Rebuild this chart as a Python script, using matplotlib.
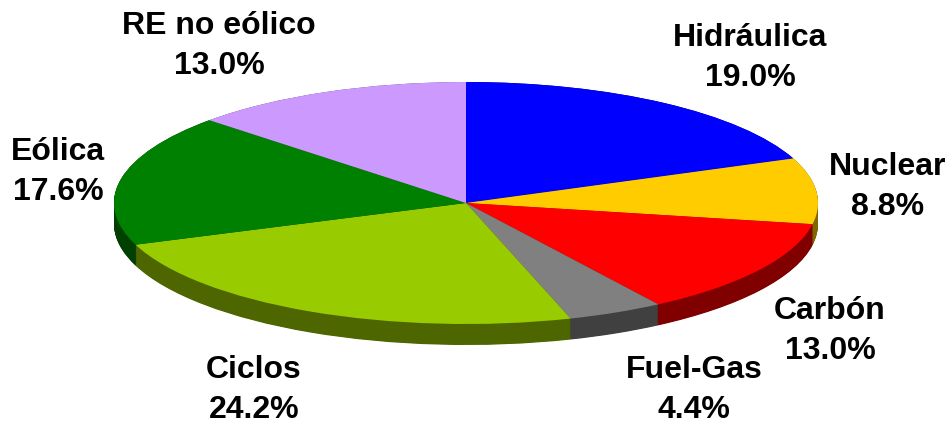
import matplotlib
matplotlib.use("Agg")
import matplotlib.pyplot as plt

categories = ["Hidráulica", "Nuclear", "Carbón", "Fuel-Gas", "Ciclos", "Eólica", "RE no eólico"]
values = [19.0, 8.8, 13.0, 4.4, 24.2, 17.6, 13.0]
top_colors = ["#0000FF", "#FFCC00", "#FF0000", "#808080", "#99CC00", "#008000", "#CC99FF"]
side_colors = ["#000080", "#806600", "#800000", "#404040", "#4D6600", "#004000", "#664C80"]

# label centres in pixel coordinates (x from left, y from top)
label_pos = [(750, 58), (888, 187), (830, 331), (694, 390), (254, 390), (58, 172), (219, 46)]

W, H = 951, 424
cx, cy = 466, 203       # pie centre (pixels)
rx, ry = 352, 121       # ellipse radii (pixels)
depth = 21              # side thickness (pixels)

fig = plt.figure(figsize=(W / 100, H / 100), dpi=100)
ax = fig.add_axes([0, 0, 1, 1])

d = depth / ry
nsteps = 40
for i in range(nsteps + 1):
    off = -d + d * i / nsteps
    ax.pie(values, colors=side_colors, startangle=90, counterclock=False,
           center=(0, off), radius=1.0, wedgeprops=dict(linewidth=0))
ax.pie(values, colors=top_colors, startangle=90, counterclock=False,
       center=(0, 0), radius=1.0, wedgeprops=dict(linewidth=0))

ax.set_aspect("auto")
ax.set_xlim(-cx / rx, (W - cx) / rx)
ax.set_ylim((cy - H) / ry, cy / ry)
ax.axis("off")

for cat, v, (px, py) in zip(categories, values, label_pos):
    x = (px - cx) / rx
    y = (cy - py) / ry
    ax.text(x, y, f"{cat}\n{v:.1f}%", ha="center", va="center", fontsize=23,
            fontweight="bold", family="Liberation Sans", linespacing=1.42, color="black")

fig.savefig("out.png", dpi=100, facecolor="white")
